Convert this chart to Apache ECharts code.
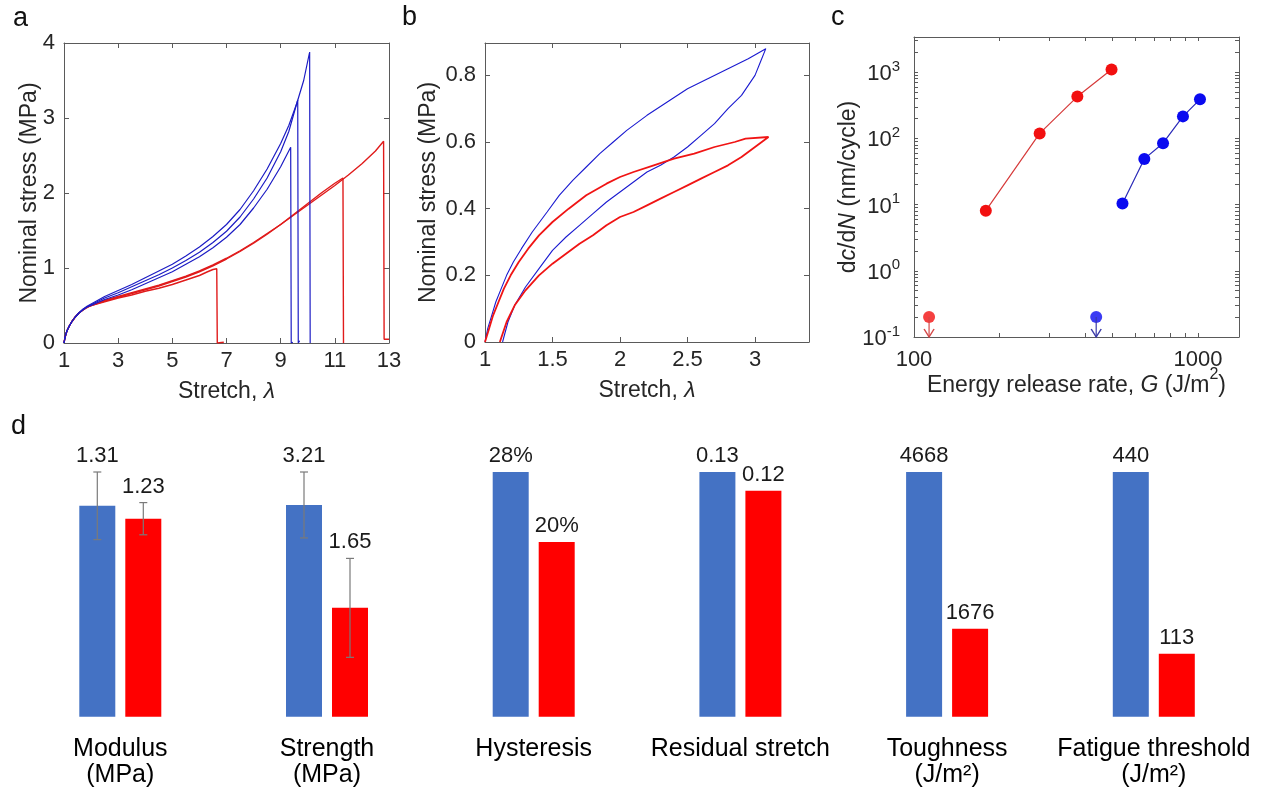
<!DOCTYPE html>
<html><head><meta charset="utf-8">
<script src="https://cdn.jsdelivr.net/npm/echarts@6/dist/echarts.min.js"></script>
<style>html,body{margin:0;padding:0;background:#fff}#c{width:1264px;height:787px}</style>
</head><body><div id="c"></div>
<script>
const FONT = '"Liberation Sans", Arial, Helvetica, sans-serif';
const AXC = '#5a5a5a', TXT = '#262626';

// ---------- Panel a : stress-stretch to failure ----------
const aBlue1 = [[1,0],[1.03,0.06],[1.07,0.12],[1.12,0.17],[1.2,0.23],[1.3,0.29],[1.4,0.34],[1.55,0.4],[1.7,0.44],[1.85,0.48],[2,0.5],[2.5,0.58],[3,0.64],[3.5,0.71],[4,0.79],[4.5,0.87],[5,0.95],[5.5,1.05],[6,1.15],[6.5,1.27],[7,1.41],[7.5,1.58],[8,1.8],[8.5,2.05],[9,2.35],[9.37,2.61],[9.39,0],[9.45,0.01]];
const aBlue2 = [[1,0],[1.03,0.06],[1.07,0.12],[1.12,0.17],[1.2,0.23],[1.3,0.29],[1.4,0.34],[1.55,0.4],[1.7,0.45],[1.85,0.48],[2,0.51],[2.5,0.6],[3,0.67],[3.5,0.75],[4,0.83],[4.5,0.91],[5,1.0],[5.5,1.1],[6,1.21],[6.5,1.34],[7,1.49],[7.5,1.68],[8,1.92],[8.5,2.2],[9,2.55],[9.3,2.82],[9.63,3.24],[9.65,0],[9.7,0.03]];
const aBlue3 = [[1,0],[1.03,0.06],[1.07,0.12],[1.12,0.17],[1.2,0.23],[1.3,0.29],[1.4,0.34],[1.55,0.4],[1.7,0.45],[1.85,0.49],[2,0.52],[2.5,0.62],[3,0.7],[3.5,0.78],[4,0.87],[4.5,0.96],[5,1.05],[5.5,1.16],[6,1.28],[6.5,1.42],[7,1.58],[7.5,1.78],[8,2.03],[8.5,2.32],[9,2.66],[9.3,2.9],[9.6,3.2],[9.85,3.5],[10.07,3.88],[10.09,0]];
const aRed1 = [[1,0],[1.03,0.06],[1.07,0.12],[1.12,0.17],[1.2,0.23],[1.3,0.29],[1.4,0.34],[1.55,0.4],[1.7,0.44],[1.85,0.48],[2,0.5],[2.5,0.57],[3,0.62],[3.5,0.67],[4,0.72],[4.5,0.77],[5,0.83],[5.5,0.89],[6,0.96],[6.5,1.04],[7,1.13],[7.5,1.23],[8,1.34],[8.5,1.46],[9,1.58],[9.5,1.71],[10,1.84],[10.5,1.97],[11,2.1],[11.5,2.24],[12,2.39],[12.5,2.56],[12.8,2.69],[12.82,0.05],[13,0.05]];
const aRed2 = [[1,0],[1.03,0.06],[1.07,0.12],[1.12,0.17],[1.2,0.23],[1.3,0.29],[1.4,0.34],[1.55,0.4],[1.7,0.44],[1.85,0.48],[2,0.5],[2.5,0.56],[3,0.61],[3.5,0.66],[4,0.71],[4.5,0.76],[5,0.82],[5.5,0.88],[6,0.95],[6.5,1.03],[7,1.12],[7.5,1.22],[8,1.33],[8.5,1.45],[9,1.58],[9.5,1.72],[10,1.86],[10.5,2.0],[11,2.13],[11.3,2.2],[11.32,0]];
const aRed3 = [[1,0],[1.03,0.06],[1.07,0.12],[1.12,0.17],[1.2,0.23],[1.3,0.29],[1.4,0.34],[1.55,0.4],[1.7,0.44],[1.85,0.47],[2,0.5],[2.5,0.55],[3,0.6],[3.5,0.64],[4,0.69],[4.5,0.73],[5,0.78],[5.5,0.84],[6,0.9],[6.3,0.95],[6.5,0.98],[6.64,0.99],[6.66,0],[6.9,0.01]];

// ---------- Panel b : loading-unloading loops ----------
const bBlueLoad = [[1,0],[1.02,0.04],[1.05,0.08],[1.08,0.12],[1.12,0.16],[1.16,0.2],[1.21,0.24],[1.27,0.28],[1.35,0.33],[1.46,0.39],[1.55,0.44],[1.65,0.485],[1.75,0.525],[1.85,0.565],[1.95,0.6],[2.05,0.635],[2.2,0.68],[2.35,0.72],[2.5,0.76],[2.65,0.79],[2.8,0.82],[2.95,0.85],[3.08,0.88]];
const bBlueUnload = [[3.08,0.88],[3.04,0.84],[3.0,0.8],[2.95,0.77],[2.9,0.74],[2.8,0.7],[2.7,0.655],[2.6,0.62],[2.5,0.585],[2.4,0.555],[2.3,0.53],[2.2,0.51],[2.1,0.48],[2.0,0.45],[1.9,0.42],[1.8,0.385],[1.7,0.35],[1.6,0.315],[1.5,0.275],[1.4,0.22],[1.3,0.165],[1.22,0.11],[1.17,0.06],[1.13,0]];
const bRedLoad = [[1,0],[1.03,0.04],[1.06,0.08],[1.1,0.12],[1.14,0.16],[1.19,0.2],[1.25,0.24],[1.32,0.28],[1.4,0.32],[1.5,0.36],[1.62,0.4],[1.75,0.44],[1.9,0.475],[2.0,0.495],[2.1,0.51],[2.25,0.53],[2.4,0.55],[2.55,0.565],[2.7,0.585],[2.85,0.6],[2.93,0.61],[3.1,0.615]];
const bRedUnload = [[3.1,0.615],[3.05,0.6],[3.0,0.585],[2.9,0.555],[2.8,0.53],[2.7,0.51],[2.6,0.49],[2.5,0.47],[2.4,0.45],[2.3,0.43],[2.2,0.41],[2.1,0.39],[2.0,0.375],[1.9,0.35],[1.8,0.32],[1.7,0.295],[1.6,0.265],[1.5,0.235],[1.4,0.2],[1.3,0.155],[1.22,0.11],[1.16,0.06],[1.11,0]];

// ---------- Panel c : crack growth ----------
const cRedG = [179, 277, 376, 496];
const cRedRate = [8.1, 119, 428, 1095];
const cBlueG = [542, 647, 753, 885, 1016];
const cBlueRate = [10.4, 49, 84.5, 215, 389];
const cThreshG = [113, 438];
const cThreshRate = [0.2, 0.2];
const cXTicksMajor = [100, 1000];
const cYTicksMajor = [0.1, 1, 10, 100, 1000];

// ---------- Panel d : property comparison ----------
const dNames = ['Modulus\n(MPa)', 'Strength\n(MPa)', 'Hysteresis', 'Residual stretch', 'Toughness\n(J/m²)', 'Fatigue threshold\n(J/m²)'];
const dBlue = [1.31, 3.21, 28, 0.13, 4668, 440];
const dRed = [1.23, 1.65, 20, 0.12, 1676, 113];
const dBlueErr = [0.21, 0.5, 0, 0, 0, 0];
const dRedErr = [0.10, 0.75, 0, 0, 0, 0];
const dBlueLabels = ['1.31', '3.21', '28%', '0.13', '4668', '440'];
const dRedLabels = ['1.23', '1.65', '20%', '0.12', '1676', '113'];

const BLUE_A = '#1c1cc4', RED_A = '#e01b1b';

// ----- axes helpers -----
const lineSt = {color: AXC, width: 1};
function xPair(g, o) {
  const base = {gridIndex: g, type: o.type || 'value', min: o.min, max: o.max, interval: o.interval,
    logBase: 10, splitLine: {show: false}, axisLine: {show: true, onZero: false, lineStyle: lineSt}};
  const bottom = Object.assign({}, base, {position: 'bottom',
    axisTick: {show: true, inside: true, length: o.tickLen || 5, lineStyle: lineSt, customValues: o.tickValues},
    axisLabel: {show: true, fontSize: 22, color: TXT, margin: o.margin, fontFamily: FONT,
      showMaxLabel: o.hideMax ? false : undefined, customValues: o.labelValues, formatter: o.formatter},
    name: o.name, nameLocation: 'middle', nameGap: o.nameGap, nameMoveOverlap: false,
    nameTextStyle: {fontSize: 23, color: TXT, fontFamily: FONT, rich: o.rich}});
  const top = Object.assign({}, base, {position: 'top',
    axisTick: {show: true, inside: true, length: o.tickLen || 5, lineStyle: lineSt, customValues: o.tickValues},
    axisLabel: {show: false}});
  return [bottom, top];
}
function yPair(g, o) {
  const base = {gridIndex: g, type: o.type || 'value', min: o.min, max: o.max, interval: o.interval,
    logBase: 10, splitLine: {show: false}, axisLine: {show: true, onZero: false, lineStyle: lineSt}};
  const left = Object.assign({}, base, {position: 'left',
    axisTick: {show: true, inside: true, length: o.tickLen || 5, lineStyle: lineSt, customValues: o.tickValues},
    axisLabel: {show: true, fontSize: 22, color: TXT, margin: o.margin, fontFamily: FONT,
      showMaxLabel: o.hideMax ? false : undefined, customValues: o.labelValues, formatter: o.formatter, rich: o.labelRich},
    name: o.name, nameLocation: 'middle', nameGap: o.nameGap, nameMoveOverlap: false,
    nameTextStyle: {fontSize: 23, color: TXT, fontFamily: FONT, rich: o.rich}});
  const right = Object.assign({}, base, {position: 'right',
    axisTick: {show: true, inside: true, length: o.tickLen || 5, lineStyle: lineSt, customValues: o.tickValues},
    axisLabel: {show: false}});
  return [left, right];
}

const itRich = {it: {fontStyle: 'italic', fontSize: 23, color: TXT, fontFamily: FONT}};

// log minor tick positions for panel c
const cXTicks = [], cYTicks = [];
for (let d = 100; d <= 1000; d *= 10) for (let k = 1; k <= 9; k++) { const v = +(k * d).toPrecision(3); if (v <= 1394) cXTicks.push(v); }
for (let d = 0.1; d <= 1000; d *= 10) for (let k = 1; k <= 9; k++) { const v = +(k * d).toPrecision(3); if (v <= 3400) cYTicks.push(v); }

const grids = [
  {left: 64, top: 43, width: 325, height: 300},
  {left: 485, top: 43, width: 324, height: 299},
  {left: 914, top: 37, width: 325, height: 300}
];
const xAxes = [], yAxes = [];
xAxes.push(...xPair(0, {min: 1, max: 13, interval: 2, margin: 7, name: 'Stretch, {it|λ}', nameGap: 37, rich: itRich}));
yAxes.push(...yPair(0, {min: 0, max: 4, interval: 1, margin: 9, name: 'Nominal stress (MPa)', nameGap: 23}));
xAxes.push(...xPair(1, {min: 1, max: 3.4, interval: 0.5, margin: 7, hideMax: true, name: 'Stretch, {it|λ}', nameGap: 37, rich: itRich}));
yAxes.push(...yPair(1, {min: 0, max: 0.897, interval: 0.2, margin: 9, hideMax: true, name: 'Nominal stress (MPa)', nameGap: 45}));
xAxes.push(...xPair(2, {type: 'log', min: 100, max: 1394, margin: 12, tickLen: 4,
  tickValues: cXTicks, labelValues: cXTicksMajor, formatter: v => String(Math.round(v)),
  name: '{n|Energy release rate, }{it|G}{n| (J/m}{s|2}{n|)}', nameGap: 30,
  rich: {n: {fontSize: 23, color: TXT, lineHeight: 30, verticalAlign: 'bottom', fontFamily: FONT},
         it: {fontSize: 23, fontStyle: 'italic', color: TXT, lineHeight: 30, verticalAlign: 'bottom', fontFamily: FONT},
         s: {fontSize: 16, color: TXT, verticalAlign: 'top', fontFamily: FONT}}}));
yAxes.push(...yPair(2, {type: 'log', min: 0.1, max: 3400, margin: 14, tickLen: 4,
  tickValues: cYTicks, labelValues: cYTicksMajor,
  formatter: v => '{b|10}{s|' + Math.round(Math.log10(v)) + '}',
  labelRich: {b: {fontSize: 22, color: TXT, lineHeight: 26, verticalAlign: 'bottom', fontFamily: FONT},
              s: {fontSize: 15, color: TXT, verticalAlign: 'top', fontFamily: FONT}},
  name: 'd{it|c}/d{it|N} (nm/cycle)', nameGap: 54, rich: itRich}));

const series = [];
function lineS(xi, yi, data, color, width) {
  return {type: 'line', xAxisIndex: xi, yAxisIndex: yi, data: data, showSymbol: false, symbol: 'none',
    lineStyle: {color: color, width: width}, itemStyle: {color: color}, clip: true, silent: true};
}
[aRed1, aRed2, aRed3].forEach(d => series.push(lineS(0, 0, d, RED_A, 1.4)));
[aBlue1, aBlue2, aBlue3].forEach(d => series.push(lineS(0, 0, d, BLUE_A, 1.2)));
series.push(lineS(2, 2, bBlueLoad.concat(bBlueUnload), '#1a1ad0', 1.1));
series.push(lineS(2, 2, bRedLoad.concat(bRedUnload), '#f01414', 1.8));

// panel c
series.push({type: 'line', xAxisIndex: 4, yAxisIndex: 4, data: cRedG.map((g, i) => [g, cRedRate[i]]),
  symbol: 'circle', symbolSize: 12, lineStyle: {color: '#d63a3a', width: 1.2}, itemStyle: {color: '#f21010'}});
series.push({type: 'line', xAxisIndex: 4, yAxisIndex: 4, data: cBlueG.map((g, i) => [g, cBlueRate[i]]),
  symbol: 'circle', symbolSize: 12, lineStyle: {color: '#2a2ab8', width: 1.2}, itemStyle: {color: '#0a0af0'}});
const arrowCols = ['#d44848', '#3a3aa8'];
cThreshG.forEach((g, i) => {
  series.push({type: 'line', xAxisIndex: 4, yAxisIndex: 4, clip: false,
    lineStyle: {color: arrowCols[i], width: 1.2},
    data: [{value: [g, cThreshRate[i]], symbol: 'none'},
           {value: [g, 0.1], symbol: 'path://M0,0L5,7L10,0', symbolSize: [10, 8], symbolOffset: [0, -4],
            itemStyle: {color: 'none', borderColor: arrowCols[i], borderWidth: 1.3}}]});
});
series.push({type: 'scatter', xAxisIndex: 4, yAxisIndex: 4, symbolSize: 12,
  data: [{value: [cThreshG[0], cThreshRate[0]], itemStyle: {color: '#f21010'}},
         {value: [cThreshG[1], cThreshRate[1]], itemStyle: {color: '#0a0af0'}}]});

// panel d
dNames.forEach((nm, i) => {
  const g = 3 + i, ax = 6 + i;
  grids.push({left: 74.3 + 206.7 * i, top: 472, width: 92, height: 244.7});
  const ymax = Math.max(dBlue[i] + dBlueErr[i], dRed[i] + dRedErr[i]);
  xAxes.push({gridIndex: g, type: 'category', data: ['A', 'B'], axisLine: {show: false}, axisTick: {show: false},
    axisLabel: {show: false}, splitLine: {show: false}, name: nm, nameLocation: 'middle', nameGap: 19,
    nameMoveOverlap: false,
    nameTextStyle: {fontSize: 25, lineHeight: 26, color: '#000', fontFamily: FONT}});
  yAxes.push({gridIndex: g, type: 'value', min: 0, max: ymax, show: false, splitLine: {show: false}});
  series.push({type: 'bar', xAxisIndex: ax, yAxisIndex: ax, barWidth: 36, silent: true, z: 2,
    data: [{value: dBlue[i], itemStyle: {color: '#4472C4'}}, {value: dRed[i], itemStyle: {color: '#FF0000'}}]});
  const labels = [dBlueLabels[i], dRedLabels[i]];
  series.push({type: 'custom', xAxisIndex: ax, yAxisIndex: ax, clip: false, silent: true, z: 5,
    data: [[0, dBlue[i], dBlueErr[i]], [1, dRed[i], dRedErr[i]]],
    renderItem: function (params, api) {
      const c = api.value(0), v = api.value(1), e = api.value(2);
      const top = api.coord([c, v + e]);
      const children = [];
      if (e > 0) {
        const bot = api.coord([c, v - e]);
        const st = {stroke: '#7a7a7a', lineWidth: 1.2};
        children.push({type: 'line', shape: {x1: top[0], y1: top[1], x2: bot[0], y2: bot[1]}, style: st});
        children.push({type: 'line', shape: {x1: top[0] - 4, y1: top[1], x2: top[0] + 4, y2: top[1]}, style: st});
        children.push({type: 'line', shape: {x1: bot[0] - 4, y1: bot[1], x2: bot[0] + 4, y2: bot[1]}, style: st});
      }
      children.push({type: 'text', x: top[0], y: top[1] - 5,
        style: {text: labels[params.dataIndex], fontSize: 22, fontFamily: FONT, fill: '#1a1a1a',
                align: 'center', verticalAlign: 'bottom'}});
      return {type: 'group', children: children};
    }});
});

grids.forEach(g => { g.containLabel = false; g.outerBoundsMode = 'none'; });

const ttl = (t, l, tp) => ({text: t, left: l, top: tp, padding: 0,
  textStyle: {fontSize: 27, fontWeight: 'normal', color: '#111', fontFamily: FONT}});

const chart = echarts.init(document.getElementById('c'), null, {renderer: 'canvas'});
chart.setOption({
  animation: false,
  backgroundColor: '#fff',
  textStyle: {fontFamily: FONT},
  title: [ttl('a', 13, 5), ttl('b', 402, 4), ttl('c', 831, 4), ttl('d', 11, 413)],
  grid: grids,
  xAxis: xAxes,
  yAxis: yAxes,
  series: series
});
</script></body></html>
